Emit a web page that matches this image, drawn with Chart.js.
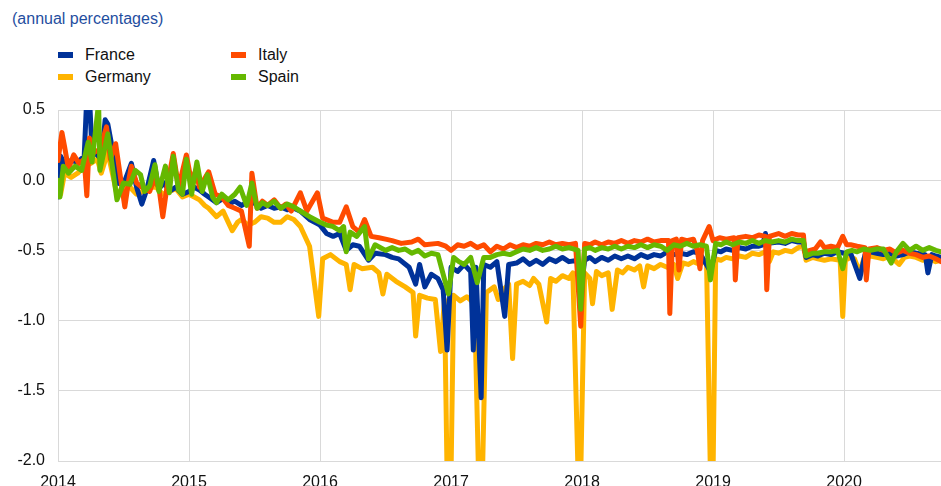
<!DOCTYPE html>
<html>
<head>
<meta charset="utf-8">
<script src="https://cdn.jsdelivr.net/npm/chart.js@4/dist/chart.umd.min.js"></script>
<style>
  body { margin: 0; background: #fff; font-family: "Liberation Sans", Arial, sans-serif; }
  #wrap { position: relative; width: 941px; height: 486px; }
  #title { position: absolute; left: 12px; top: 10px; font-size: 16px; color: #1f4ea0; }
  .leg { position: absolute; font-size: 16px; color: #111; }
  .leg span { position: absolute; width: 15px; height: 6px; }
  .leg b { font-weight: normal; position: absolute; white-space: nowrap; }
  canvas { position: absolute; left: 0; top: 0; }
</style>
</head>
<body>
<div id="wrap">
  <div id="title">(annual percentages)</div>
  <div id="legend"></div>
  <canvas id="c" width="941" height="486"></canvas>
</div>
<script>
// decimal-year dates and values
var franceT = [2014.0,2014.02,2014.05,2014.1,2014.15,2014.2,2014.22,2014.24,2014.26,2014.3,2014.33,2014.36,2014.38,2014.42,2014.45,2014.5,2014.56,2014.6,2014.64,2014.68,2014.73,2014.77,2014.81,2014.85,2014.9,2014.95,2015.0,2015.04,2015.08,2015.12,2015.15,2015.21,2015.26,2015.3,2015.35,2015.4,2015.44,2015.48,2015.55,2015.6,2015.65,2015.7,2015.75,2015.8,2015.85,2015.92,2016.0,2016.05,2016.1,2016.15,2016.2,2016.25,2016.3,2016.37,2016.42,2016.5,2016.55,2016.6,2016.68,2016.73,2016.76,2016.8,2016.85,2016.9,2016.94,2016.97,2017.0,2017.05,2017.1,2017.15,2017.17,2017.19,2017.23,2017.25,2017.3,2017.35,2017.41,2017.44,2017.5,2017.55,2017.6,2017.65,2017.7,2017.75,2017.8,2017.85,2017.9,2017.97,2017.99,2018.02,2018.06,2018.1,2018.15,2018.2,2018.25,2018.3,2018.35,2018.4,2018.45,2018.5,2018.55,2018.6,2018.65,2018.7,2018.75,2018.8,2018.85,2018.9,2018.98,2019.02,2019.06,2019.1,2019.15,2019.2,2019.25,2019.3,2019.35,2019.38,2019.4,2019.42,2019.5,2019.55,2019.6,2019.65,2019.69,2019.71,2019.76,2019.8,2019.85,2019.9,2019.95,2020.0,2020.05,2020.12,2020.16,2020.2,2020.25,2020.3,2020.35,2020.4,2020.45,2020.5,2020.55,2020.62,2020.64,2020.67,2020.7,2020.74];
var franceV = [-0.12,0.17,0.12,0.14,0.13,0.17,0.6,0.6,0.2,0.18,0.15,0.43,0.4,0.2,-0.02,-0.03,0.12,-0.05,-0.17,-0.06,0.14,-0.06,-0.02,-0.08,-0.05,-0.1,-0.08,-0.05,-0.07,-0.1,-0.12,-0.16,-0.13,-0.17,-0.15,-0.18,-0.16,-0.15,-0.2,-0.18,-0.2,-0.19,-0.21,-0.2,-0.22,-0.28,-0.32,-0.38,-0.4,-0.38,-0.5,-0.46,-0.47,-0.57,-0.52,-0.53,-0.55,-0.56,-0.62,-0.74,-0.6,-0.76,-0.67,-0.7,-0.78,-1.21,-0.62,-0.65,-0.6,-0.65,-1.21,-0.62,-1.55,-0.6,-0.62,-0.58,-0.97,-0.6,-0.59,-0.56,-0.6,-0.57,-0.6,-0.56,-0.58,-0.55,-0.58,-0.57,-0.8,-0.57,-0.55,-0.58,-0.55,-0.57,-0.54,-0.56,-0.54,-0.56,-0.53,-0.55,-0.53,-0.54,-0.51,-0.53,-0.52,-0.53,-0.51,-0.52,-0.65,-0.5,-0.51,-0.49,-0.5,-0.48,-0.49,-0.47,-0.47,-0.46,-0.38,-0.45,-0.44,-0.45,-0.43,-0.44,-0.44,-0.55,-0.53,-0.54,-0.52,-0.53,-0.51,-0.52,-0.52,-0.7,-0.53,-0.51,-0.52,-0.53,-0.52,-0.54,-0.53,-0.51,-0.52,-0.53,-0.66,-0.53,-0.54,-0.55];

var germanyT = [2014.0,2014.02,2014.05,2014.1,2014.15,2014.2,2014.25,2014.3,2014.33,2014.38,2014.45,2014.5,2014.55,2014.6,2014.65,2014.7,2014.75,2014.8,2014.85,2014.9,2014.95,2015.0,2015.04,2015.08,2015.12,2015.15,2015.21,2015.26,2015.3,2015.33,2015.37,2015.4,2015.45,2015.5,2015.55,2015.6,2015.65,2015.7,2015.75,2015.8,2015.85,2015.92,2015.99,2016.02,2016.08,2016.15,2016.2,2016.23,2016.26,2016.32,2016.4,2016.45,2016.48,2016.51,2016.58,2016.65,2016.71,2016.73,2016.76,2016.82,2016.88,2016.92,2016.95,2016.97,2017.0,2017.02,2017.07,2017.12,2017.18,2017.21,2017.24,2017.27,2017.33,2017.36,2017.4,2017.44,2017.47,2017.5,2017.55,2017.6,2017.63,2017.67,2017.73,2017.76,2017.8,2017.85,2017.9,2017.93,2017.97,2017.99,2018.02,2018.06,2018.08,2018.11,2018.15,2018.2,2018.23,2018.27,2018.31,2018.35,2018.4,2018.44,2018.47,2018.5,2018.55,2018.6,2018.65,2018.7,2018.73,2018.77,2018.81,2018.85,2018.9,2018.95,2018.98,2019.0,2019.02,2019.06,2019.1,2019.15,2019.2,2019.25,2019.3,2019.35,2019.4,2019.43,2019.46,2019.5,2019.55,2019.6,2019.65,2019.69,2019.71,2019.76,2019.8,2019.85,2019.9,2019.97,2019.99,2020.01,2020.05,2020.08,2020.12,2020.15,2020.2,2020.25,2020.3,2020.35,2020.42,2020.46,2020.5,2020.55,2020.6,2020.65,2020.7,2020.74];
var germanyV = [-0.05,-0.1,0.05,0.02,0.05,0.1,0.12,0.15,0.05,0.2,-0.1,-0.06,-0.05,-0.1,-0.08,-0.05,-0.05,-0.1,-0.08,-0.06,-0.12,-0.1,-0.12,-0.14,-0.18,-0.2,-0.26,-0.22,-0.3,-0.36,-0.3,-0.28,-0.32,-0.3,-0.26,-0.27,-0.3,-0.3,-0.26,-0.28,-0.33,-0.47,-0.97,-0.56,-0.53,-0.58,-0.6,-0.78,-0.6,-0.63,-0.62,-0.66,-0.81,-0.67,-0.72,-0.76,-0.8,-1.11,-0.82,-0.84,-0.85,-1.22,-0.85,-2.1,-2.1,-0.82,-0.86,-0.83,-0.88,-2.1,-2.1,-0.8,-0.76,-0.85,-0.78,-0.74,-1.27,-0.74,-0.72,-0.75,-0.7,-0.74,-1.01,-0.7,-0.72,-0.68,-0.7,-0.66,-2.1,-2.1,-0.66,-0.7,-0.88,-0.65,-0.68,-0.66,-0.92,-0.64,-0.66,-0.62,-0.64,-0.61,-0.76,-0.61,-0.63,-0.6,-0.62,-0.6,-0.7,-0.59,-0.6,-0.58,-0.6,-0.57,-2.1,-2.1,-0.56,-0.57,-0.55,-0.56,-0.54,-0.55,-0.52,-0.53,-0.51,-0.58,-0.51,-0.52,-0.5,-0.51,-0.48,-0.47,-0.57,-0.55,-0.56,-0.57,-0.56,-0.57,-0.97,-0.57,-0.55,-0.56,-0.66,-0.56,-0.54,-0.55,-0.56,-0.54,-0.6,-0.55,-0.54,-0.55,-0.57,-0.56,-0.58,-0.57];

var italyT = [2014.0,2014.03,2014.05,2014.08,2014.12,2014.16,2014.2,2014.22,2014.24,2014.28,2014.32,2014.37,2014.4,2014.44,2014.48,2014.51,2014.54,2014.56,2014.6,2014.64,2014.7,2014.73,2014.77,2014.8,2014.83,2014.88,2014.92,2014.98,2015.02,2015.05,2015.08,2015.15,2015.2,2015.25,2015.3,2015.35,2015.4,2015.46,2015.48,2015.52,2015.56,2015.6,2015.65,2015.7,2015.74,2015.78,2015.85,2015.9,2015.98,2016.02,2016.1,2016.15,2016.2,2016.25,2016.3,2016.34,2016.39,2016.45,2016.5,2016.55,2016.62,2016.7,2016.75,2016.8,2016.9,2016.96,2017.0,2017.05,2017.1,2017.15,2017.2,2017.25,2017.3,2017.35,2017.4,2017.45,2017.5,2017.55,2017.6,2017.65,2017.7,2017.75,2017.8,2017.85,2017.9,2017.95,2017.99,2018.02,2018.06,2018.1,2018.15,2018.2,2018.25,2018.3,2018.35,2018.4,2018.45,2018.5,2018.55,2018.6,2018.66,2018.67,2018.69,2018.72,2018.74,2018.76,2018.8,2018.85,2018.88,2018.9,2018.92,2018.97,2019.0,2019.05,2019.1,2019.16,2019.17,2019.19,2019.25,2019.3,2019.35,2019.4,2019.41,2019.43,2019.5,2019.55,2019.6,2019.65,2019.69,2019.7,2019.74,2019.78,2019.82,2019.85,2019.9,2019.95,2019.99,2020.02,2020.05,2020.1,2020.16,2020.17,2020.19,2020.25,2020.3,2020.35,2020.4,2020.45,2020.5,2020.55,2020.6,2020.65,2020.7,2020.74];
var italyV = [0.14,0.34,0.24,0.08,0.18,0.12,0.15,-0.11,0.3,0.2,0.22,0.38,0.15,0.26,0.0,-0.19,0.0,0.1,-0.02,-0.05,-0.08,0.0,-0.05,-0.26,-0.06,0.19,-0.05,0.18,-0.02,0.07,-0.05,0.06,-0.1,-0.12,-0.18,-0.2,-0.22,-0.47,0.05,-0.2,-0.15,-0.18,-0.14,-0.2,-0.17,-0.22,-0.09,-0.22,-0.09,-0.27,-0.3,-0.3,-0.19,-0.33,-0.37,-0.28,-0.4,-0.41,-0.42,-0.43,-0.45,-0.44,-0.42,-0.46,-0.45,-0.47,-0.5,-0.46,-0.47,-0.45,-0.48,-0.46,-0.51,-0.47,-0.49,-0.46,-0.48,-0.46,-0.47,-0.45,-0.46,-0.44,-0.46,-0.45,-0.46,-0.45,-1.04,-0.45,-0.46,-0.44,-0.46,-0.44,-0.45,-0.43,-0.45,-0.43,-0.44,-0.42,-0.44,-0.43,-0.43,-0.95,-0.43,-0.42,-0.64,-0.42,-0.43,-0.42,-0.5,-0.63,-0.43,-0.33,-0.43,-0.41,-0.42,-0.41,-0.71,-0.41,-0.4,-0.41,-0.39,-0.4,-0.78,-0.4,-0.38,-0.4,-0.38,-0.39,-0.39,-0.51,-0.5,-0.49,-0.44,-0.48,-0.47,-0.48,-0.4,-0.46,-0.46,-0.47,-0.48,-0.71,-0.49,-0.48,-0.5,-0.49,-0.52,-0.5,-0.52,-0.53,-0.55,-0.54,-0.56,-0.58];

var spainT = [2014.0,2014.015,2014.04,2014.08,2014.13,2014.18,2014.23,2014.26,2014.31,2014.32,2014.35,2014.38,2014.41,2014.45,2014.5,2014.55,2014.59,2014.63,2014.66,2014.7,2014.74,2014.77,2014.82,2014.85,2014.88,2014.92,2014.95,2014.98,2015.02,2015.06,2015.1,2015.14,2015.18,2015.21,2015.25,2015.3,2015.35,2015.39,2015.44,2015.48,2015.52,2015.56,2015.6,2015.65,2015.7,2015.75,2015.8,2015.85,2015.92,2016.0,2016.05,2016.1,2016.15,2016.18,2016.2,2016.23,2016.28,2016.34,2016.37,2016.42,2016.5,2016.55,2016.6,2016.65,2016.7,2016.75,2016.8,2016.85,2016.9,2016.98,2017.02,2017.06,2017.1,2017.15,2017.2,2017.25,2017.3,2017.35,2017.4,2017.45,2017.5,2017.55,2017.6,2017.65,2017.7,2017.75,2017.8,2017.85,2017.9,2017.97,2017.99,2018.02,2018.06,2018.1,2018.15,2018.2,2018.25,2018.3,2018.35,2018.4,2018.45,2018.5,2018.55,2018.6,2018.65,2018.7,2018.75,2018.8,2018.85,2018.9,2018.95,2018.98,2019.02,2019.06,2019.1,2019.15,2019.2,2019.25,2019.3,2019.35,2019.4,2019.45,2019.5,2019.55,2019.6,2019.65,2019.69,2019.71,2019.76,2019.8,2019.85,2019.9,2019.95,2019.99,2020.02,2020.06,2020.1,2020.15,2020.2,2020.25,2020.3,2020.36,2020.4,2020.45,2020.5,2020.55,2020.6,2020.65,2020.7,2020.74];
var spainV = [0.0,-0.12,0.1,0.05,0.1,0.07,0.27,0.13,0.55,0.07,0.2,0.33,0.13,-0.14,-0.02,-0.03,0.07,0.04,-0.08,-0.04,0.11,-0.08,0.1,-0.09,0.17,-0.07,-0.1,0.15,-0.1,0.13,-0.08,0.04,-0.12,-0.16,-0.1,-0.14,-0.1,-0.05,-0.18,-0.02,-0.2,-0.16,-0.18,-0.15,-0.2,-0.17,-0.19,-0.22,-0.26,-0.3,-0.32,-0.33,-0.36,-0.33,-0.51,-0.37,-0.4,-0.33,-0.56,-0.46,-0.5,-0.48,-0.5,-0.49,-0.52,-0.5,-0.54,-0.52,-0.53,-0.81,-0.55,-0.58,-0.6,-0.55,-0.73,-0.55,-0.55,-0.53,-0.52,-0.53,-0.51,-0.49,-0.5,-0.48,-0.5,-0.49,-0.47,-0.49,-0.48,-0.5,-0.92,-0.49,-0.48,-0.5,-0.48,-0.49,-0.47,-0.49,-0.47,-0.48,-0.46,-0.48,-0.46,-0.47,-0.5,-0.46,-0.47,-0.45,-0.47,-0.46,-0.47,-0.71,-0.45,-0.46,-0.44,-0.46,-0.44,-0.45,-0.43,-0.45,-0.43,-0.44,-0.43,-0.44,-0.42,-0.43,-0.43,-0.54,-0.52,-0.52,-0.51,-0.51,-0.5,-0.63,-0.51,-0.5,-0.51,-0.49,-0.5,-0.49,-0.49,-0.59,-0.51,-0.45,-0.5,-0.47,-0.5,-0.48,-0.5,-0.51];

var yearTicks = [2014, 2015, 2016, 2017, 2018, 2019, 2020];

function pts(t, v) {
    return t.map(function (x, i) { return { x: x, y: v[i] }; });
}

var series = [
    { label: 'France',  t: franceT,  v: franceV,  color: '#003299', order: 2, lx: 58,  ly: 46 },
    { label: 'Italy',   t: italyT,   v: italyV,   color: '#ff4b00', order: 1, lx: 231, ly: 46 },
    { label: 'Germany', t: germanyT, v: germanyV, color: '#ffb400', order: 3, lx: 58,  ly: 68 },
    { label: 'Spain',   t: spainT,   v: spainV,   color: '#65b800', order: 0, lx: 231, ly: 68 }
];

var leg = document.getElementById('legend');
series.forEach(function (s) {
    leg.innerHTML += `<div class="leg" style="left:${s.lx}px;top:${s.ly}px">
        <span style="left:0;top:6px;background:${s.color}"></span>
        <b style="left:27px;top:0">${s.label}</b></div>`;
});

var datasets = series.map(function (s) {
    return {
        label: s.label,
        data: pts(s.t, s.v),
        borderColor: s.color,
        backgroundColor: s.color,
        borderWidth: 5,
        pointRadius: 0,
        tension: 0,
        borderJoinStyle: 'round',
        borderCapStyle: 'round',
        order: s.order
    };
});

new Chart(document.getElementById('c'), {
    type: 'line',
    data: { datasets: datasets },
    options: {
        responsive: false,
        animation: false,
        layout: { padding: { top: 110, right: 0, bottom: 0, left: 0 } },
        plugins: { legend: { display: false }, tooltip: { enabled: false } },
        scales: {
            x: {
                type: 'linear',
                min: 2014,
                max: 2020.74,
                afterFit: function (s) { s.height = 25; },
                afterBuildTicks: function (s) { s.ticks = yearTicks.map(function (y) { return { value: y }; }); },
                grid: { color: '#d9d9d9', drawTicks: false },
                border: { color: '#d9d9d9' },
                ticks: {
                    padding: 12,
                    color: '#111',
                    font: { family: 'Liberation Sans', size: 16 },
                    callback: function (v) { return String(v); }
                }
            },
            y: {
                min: -2,
                max: 0.5,
                afterFit: function (s) { s.width = 58; },
                grid: { color: '#d9d9d9', drawTicks: false },
                border: { color: '#d9d9d9' },
                ticks: {
                    stepSize: 0.5,
                    padding: 13,
                    color: '#111',
                    font: { family: 'Liberation Sans', size: 16 },
                    callback: function (v) { return v.toFixed(1); }
                }
            }
        }
    }
});
</script>
</body>
</html>
